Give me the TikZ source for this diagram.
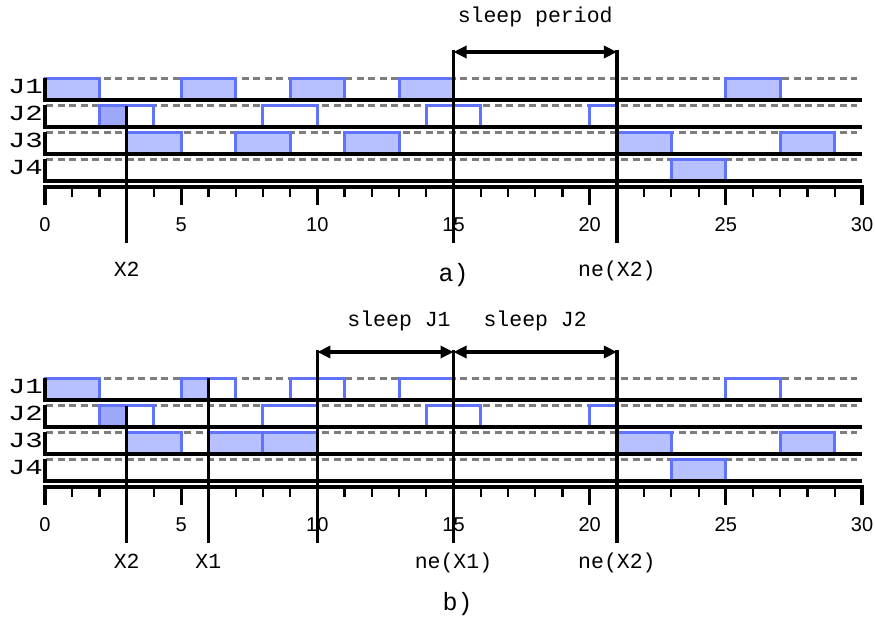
\documentclass[tikz,border=0pt]{standalone}
\usepackage{fontspec}
\setmainfont{Liberation Sans}
\newfontfamily\monofam{Liberation Mono}
\usetikzlibrary{arrows.meta}
\definecolor{boxfill}{RGB}{183,193,255}
\definecolor{boxdark}{RGB}{158,168,250}
\definecolor{boxline}{RGB}{95,115,255}
\definecolor{dashgray}{RGB}{125,125,125}
\tikzset{
  blk/.style={line width=3.2pt, black},
  minortick/.style={line width=2.2pt, black},
  dashln/.style={dashgray, line width=3pt, dash pattern=on 7pt off 4.5pt},
  jobedge/.style={boxline, line width=3pt},
  monolbl/.style={font=\monofam\fontsize{21.5}{24}\selectfont, inner sep=0pt},
  biglbl/.style={font=\monofam\fontsize{25}{28}\selectfont, inner sep=0pt},
  ticklbl/.style={font=\fontsize{20}{24}\selectfont, inner sep=0pt},
  sleeparrow/.style={line width=3.2pt, {Triangle[length=13pt,width=12pt]}-{Triangle[length=13pt,width=12pt]}},
}
% #1 colour, #2 row, #3 from, #4 to, #5 offset
\newcommand\jfill[5]{\fill[#1] (#3,{78+27*#2+#5}) rectangle (#4,{100+27*#2+#5});}
% #1 row, #2 from, #3 to, #4 offset
\newcommand\jedge[4]{\draw[jobedge] (#2,{100+27*#1+#4}) -- (#2,{78+27*#1+#4}) -- (#3,{78+27*#1+#4}) -- (#3,{100+27*#1+#4});}
\newcommand\jbox[4]{\jfill{boxfill}{#1}{#2}{#3}{#4}\jedge{#1}{#2}{#3}{#4}}
\begin{document}
\begin{tikzpicture}[x=27.2333pt,y=-1pt,line join=miter]
\useasboundingbox (-1.65239,0) rectangle (30.4774,632);

% dashed guide lines
\foreach \off in {0,300}{
  \foreach \r in {0,...,3}{
    \draw[dashln] (0.05,{78+27*\r+\off}) -- (29.82,{78+27*\r+\off});
  }
}

% ---------- diagram a) boxes
\jbox{0}{0}{2}{0}\jbox{0}{5}{7}{0}\jbox{0}{9}{11}{0}\jbox{0}{13}{15}{0}\jbox{0}{25}{27}{0}
\jfill{boxdark}{1}{2}{3}{0}\jedge{1}{2}{4}{0}\jedge{1}{8}{10}{0}\jedge{1}{14}{16}{0}\jedge{1}{20}{21}{0}
\jbox{2}{3}{5}{0}\jbox{2}{7}{9}{0}\jbox{2}{11}{13}{0}\jbox{2}{21}{23}{0}\jbox{2}{27}{29}{0}
\jbox{3}{23}{25}{0}

% ---------- diagram b) boxes
\jbox{0}{0}{2}{300}\jfill{boxfill}{0}{5}{6}{300}\jedge{0}{5}{7}{300}\jedge{0}{9}{11}{300}\jedge{0}{13}{15}{300}\jedge{0}{25}{27}{300}
\jfill{boxdark}{1}{2}{3}{300}\jedge{1}{2}{4}{300}\jedge{1}{8}{10}{300}\jedge{1}{14}{16}{300}\jedge{1}{20}{21}{300}
\jbox{2}{3}{5}{300}\jbox{2}{6}{8}{300}\jbox{2}{8}{10}{300}\jbox{2}{21}{23}{300}\jbox{2}{27}{29}{300}
\jbox{3}{23}{25}{300}

% rows, axes, labels
\foreach \off in {0,300}{
  \foreach \r/\n in {0/1,1/2,2/3,3/4}{
    \draw[blk] (0,{78+27*\r+\off}) -- (0,{100+27*\r+\off}) -- (30,{100+27*\r+\off});
    \node[monolbl, anchor=base east] (J\n-\off) at (-0.07,{93.3+27*\r+\off}) {\scalebox{1.35}[1]{J\n}};
  }
  \foreach \t in {1,...,29}{
    \draw[minortick] (\t,{187+\off}) -- (\t,{197+\off});
  }
  \draw[blk] (0,{205+\off}) -- (0,{187+\off}) -- (30,{187+\off}) -- (30,{205+\off});
  \foreach \t in {5,10,...,25}{
    \draw[blk] (\t,{187+\off}) -- (\t,{205+\off});
  }
  \foreach \t in {0,5,...,30}{
    \node[ticklbl, anchor=base] (tk\t-\off) at (\t,{231+\off}) {\t};
  }
}

% ---------- markers a)
\coordinate (a3t) at (3,106);  \coordinate (a3b) at (3,243);
\coordinate (a15t) at (15,50); \coordinate (a15b) at (15,243);
\coordinate (a21t) at (21,50); \coordinate (a21b) at (21,243);
\coordinate (a15m) at (15,52); \coordinate (a21m) at (21,52);
\draw[blk] (a3t) -- (a3b);
\draw[blk] (a15t) -- (a15b);
\draw[blk] (a21t) -- (a21b);
\draw[sleeparrow] (a15m) -- (a21m);
\node[monolbl, anchor=base] (sp) at (18,22.5) {sleep period};
\node[monolbl, anchor=base] (x2a) at (3,276) {X2};
\node[monolbl, anchor=base] (nex2a) at (21,276) {ne(X2)};
\node[biglbl, anchor=base] (la) at (15,281) {a)};

% ---------- markers b)
\coordinate (b3t) at (3,406);  \coordinate (b3b) at (3,543);
\coordinate (b6t) at (6,378);  \coordinate (b6b) at (6,543);
\coordinate (b10t) at (10,350); \coordinate (b10b) at (10,543);
\coordinate (b15t) at (15,350); \coordinate (b15b) at (15,543);
\coordinate (b21t) at (21,350); \coordinate (b21b) at (21,543);
\coordinate (b10m) at (10,352); \coordinate (b15m) at (15,352); \coordinate (b21m) at (21,352);
\draw[blk] (b3t) -- (b3b);
\draw[blk] (b6t) -- (b6b);
\draw[blk] (b10t) -- (b10b);
\draw[blk] (b15t) -- (b15b);
\draw[blk] (b21t) -- (b21b);
\draw[sleeparrow] (b10m) -- (b15m);
\draw[sleeparrow] (b15m) -- (b21m);
\node[monolbl, anchor=base] (sj1) at (13,326) {sleep J1};
\node[monolbl, anchor=base] (sj2) at (18,326) {sleep J2};
\node[monolbl, anchor=base] (x2b) at (3,568) {X2};
\node[monolbl, anchor=base] (x1b) at (6,568) {X1};
\node[monolbl, anchor=base] (nex1b) at (15,568) {ne(X1)};
\node[monolbl, anchor=base] (nex2b) at (21,568) {ne(X2)};
\node[biglbl, anchor=base] (lb) at (15.15,610) {b)};
\end{tikzpicture}
\end{document}
